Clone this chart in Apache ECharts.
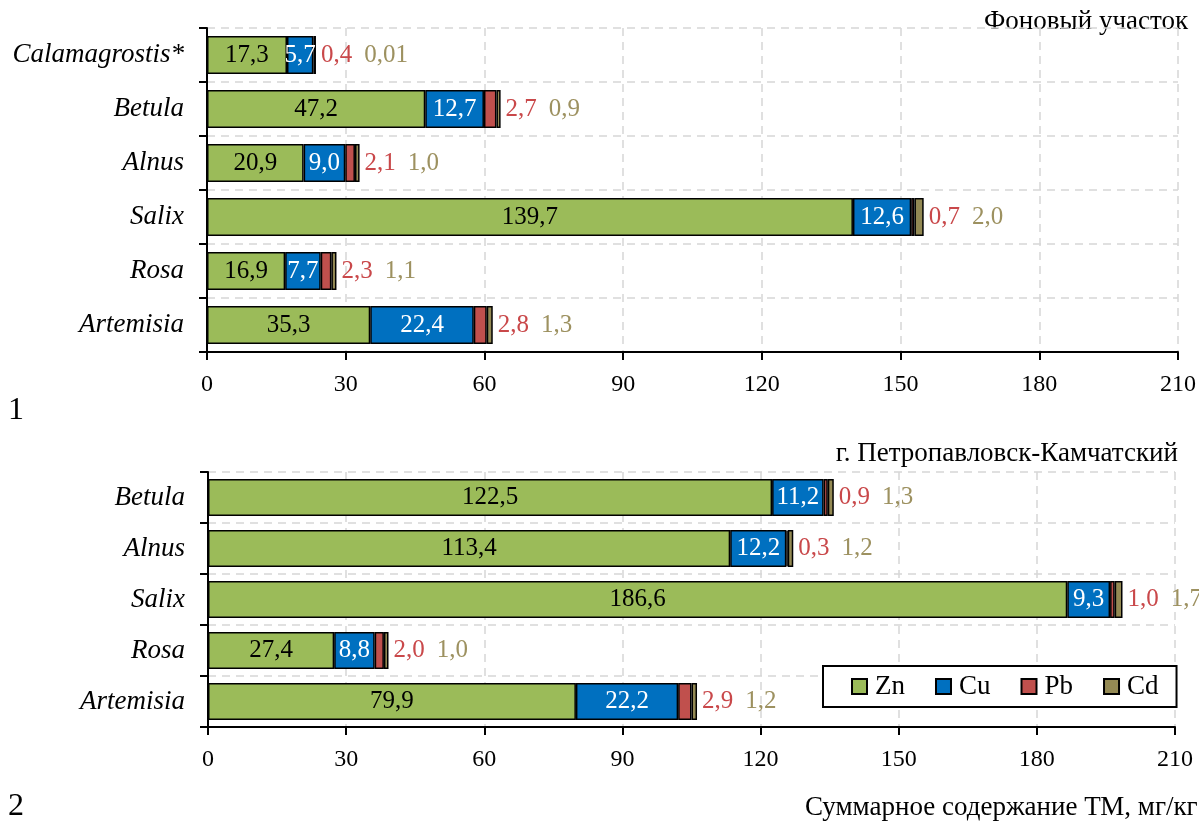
<!DOCTYPE html>
<html>
<head>
<meta charset="utf-8">
<script src="https://cdn.jsdelivr.net/npm/echarts@6/dist/echarts.min.js"></script>
<style>
  html, body { margin: 0; padding: 0; background: #fff; }
  #chart { width: 1199px; height: 823px; }
</style>
</head>
<body>
<div id="chart"></div>
<script>
// Background site (panel 1)
const bgCategories = ['Calamagrostis*', 'Betula', 'Alnus', 'Salix', 'Rosa', 'Artemisia'];
const bgZn = [17.3, 47.2, 20.9, 139.7, 16.9, 35.3];
const bgCu = [5.7, 12.7, 9.0, 12.6, 7.7, 22.4];
const bgPb = [0.4, 2.7, 2.1, 0.7, 2.3, 2.8];
const bgCd = [0.01, 0.9, 1.0, 2.0, 1.1, 1.3];

// Petropavlovsk-Kamchatsky (panel 2)
const cityCategories = ['Betula', 'Alnus', 'Salix', 'Rosa', 'Artemisia'];
const cityZn = [122.5, 113.4, 186.6, 27.4, 79.9];
const cityCu = [11.2, 12.2, 9.3, 8.8, 22.2];
const cityPb = [0.9, 0.3, 1.0, 2.0, 2.9];
const cityCd = [1.3, 1.2, 1.7, 1.0, 1.2];

const xTicks = [0, 30, 60, 90, 120, 150, 180, 210];

const FONT = 'Liberation Serif';
const C = { Zn: '#9bbb59', Cu: '#0070c0', Pb: '#c0504d', Cd: '#948a54' };
const PB_TEXT = '#c9484a';
const CD_TEXT = '#9d9160';

function fmt(v) {
  const s = Number.isInteger(v) ? v.toFixed(1) : String(v);
  return s.replace('.', ',');
}

function xAxis(gridIndex) {
  return {
    type: 'value', gridIndex: gridIndex,
    min: xTicks[0], max: xTicks[xTicks.length - 1], interval: xTicks[1] - xTicks[0],
    axisLine: { show: true, lineStyle: { color: '#000', width: 2 } },
    axisTick: { show: true, length: 8, lineStyle: { color: '#000', width: 2 } },
    axisLabel: { color: '#000', fontFamily: FONT, fontSize: 24, margin: 21,
                 formatter: v => String(v) },
    splitLine: { show: true, lineStyle: { color: '#d6d6d6', width: 1.5, type: [8, 6] } }
  };
}

function yAxis(gridIndex, cats) {
  return {
    type: 'category', gridIndex: gridIndex, data: cats, inverse: true,
    axisLine: { show: true, lineStyle: { color: '#000', width: 2 } },
    axisTick: { show: true, length: 8, lineStyle: { color: '#000', width: 2 } },
    axisLabel: { color: '#000', fontFamily: FONT, fontSize: 27, fontStyle: 'italic', margin: 23 },
    splitLine: { show: true, lineStyle: { color: '#d6d6d6', width: 1.5, type: [8, 6] } }
  };
}

function panelSeries(idx, zn, cu, pb, cd, barWidth) {
  const base = {
    type: 'bar', stack: 'tm' + idx, xAxisIndex: idx, yAxisIndex: idx,
    barWidth: barWidth
  };
  const border = { borderColor: '#000', borderWidth: 1.5 };
  return [
    Object.assign({}, base, {
      name: 'Zn', data: zn,
      itemStyle: Object.assign({ color: C.Zn }, border),
      label: { show: true, position: 'inside', color: '#000', fontFamily: FONT, fontSize: 25,
               formatter: p => fmt(p.value) }
    }),
    Object.assign({}, base, {
      name: 'Cu', data: cu,
      itemStyle: Object.assign({ color: C.Cu }, border),
      label: { show: true, position: 'inside', color: '#fff', fontFamily: FONT, fontSize: 25,
               formatter: p => fmt(p.value) }
    }),
    Object.assign({}, base, {
      name: 'Pb', data: pb,
      itemStyle: Object.assign({ color: C.Pb }, border)
    }),
    Object.assign({}, base, {
      name: 'Cd', data: cd,
      itemStyle: Object.assign({ color: C.Cd }, border),
      label: {
        show: true, position: 'right', distance: 5,
        fontFamily: FONT, fontSize: 25,
        formatter: p => '{pb|' + fmt(pb[p.dataIndex]) + '}{sp|}{cd|' + fmt(p.value) + '}',
        rich: {
          pb: { color: PB_TEXT, fontFamily: FONT, fontSize: 25 },
          sp: { width: 12 },
          cd: { color: CD_TEXT, fontFamily: FONT, fontSize: 25 }
        }
      }
    })
  ];
}

const chart = echarts.init(document.getElementById('chart'), null, { renderer: 'canvas' });

chart.setOption({
  animation: false,
  backgroundColor: '#fff',
  grid: [
    { left: 207, right: 21, top: 28, height: 324 },
    { left: 208, right: 24, top: 472, height: 255 }
  ],
  xAxis: [xAxis(0), xAxis(1)],
  yAxis: [yAxis(0, bgCategories), yAxis(1, cityCategories)],
  legend: {
    data: ['Zn', 'Cu', 'Pb', 'Cd'],
    left: 823, top: 666,
    orient: 'horizontal',
    icon: 'rect', itemWidth: 15, itemHeight: 15, itemGap: 30,
    padding: [7, 18, 7, 28],
    borderColor: '#000', borderWidth: 2, backgroundColor: '#fff',
    textStyle: { color: '#000', fontFamily: FONT, fontSize: 27, padding: [0, 0, 0, 3] }
  },
  series: []
    .concat(panelSeries(0, bgZn, bgCu, bgPb, bgCd, 38))
    .concat(panelSeries(1, cityZn, cityCu, cityPb, cityCd, 37)),
  graphic: [
    { type: 'text', style: { text: 'Фоновый участок', x: 1188, y: 22, align: 'right', verticalAlign: 'middle',
      font: '27px "Liberation Serif"', fill: '#000' } },
    { type: 'text', style: { text: 'г. Петропавловск-Камчатский', x: 1178, y: 454, align: 'right', verticalAlign: 'middle',
      font: '27px "Liberation Serif"', fill: '#000' } },
    { type: 'text', style: { text: '1', x: 8, y: 411, align: 'left', verticalAlign: 'middle',
      font: '32px "Liberation Serif"', fill: '#000' } },
    { type: 'text', style: { text: '2', x: 8, y: 807, align: 'left', verticalAlign: 'middle',
      font: '32px "Liberation Serif"', fill: '#000' } },
    { type: 'text', style: { text: 'Суммарное содержание ТМ, мг/кг', x: 805, y: 808, align: 'left', verticalAlign: 'middle',
      font: '27px "Liberation Serif"', fill: '#000' } }
  ]
});
</script>
</body>
</html>
